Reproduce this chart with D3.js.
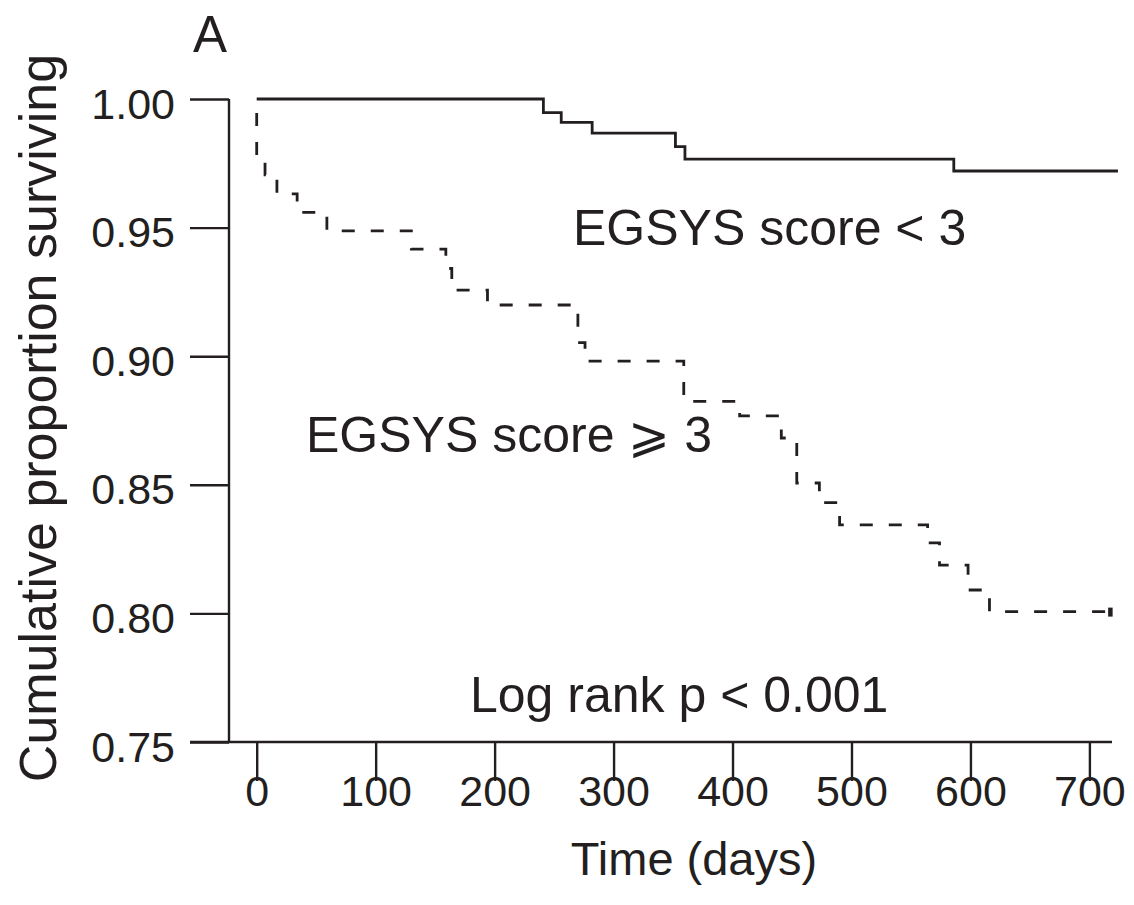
<!DOCTYPE html>
<html>
<head>
<meta charset="utf-8">
<script src="https://cdn.jsdelivr.net/npm/d3@7"></script>
<style>
  body { margin: 0; background: #fff; }
  svg { display: block; }
  text { font-family: "Liberation Sans", Arial, Helvetica, sans-serif; fill: #231f20; }
</style>
</head>
<body>
<svg width="1134" height="905"></svg>
<script>
// Kaplan-Meier curves
const xTicks = [0, 100, 200, 300, 400, 500, 600, 700]
const yTicks = [0.75, 0.80, 0.85, 0.90, 0.95, 1.00]

// EGSYS score < 3 (solid)
const lowDays = [0, 241, 256, 282, 352, 360, 586, 724]
const lowSurv = [1.0, 0.9947, 0.9909, 0.9867, 0.9815, 0.9766, 0.9720, 0.9720]

// EGSYS score >= 3 (dashed)
const highDays = [0, 0, 7, 17, 34, 59, 130, 159, 164, 194, 270, 276, 359, 406, 441, 454, 473, 490, 564, 574, 598, 616, 721]
const highSurv = [1.0, 0.9763, 0.9705, 0.9631, 0.9559, 0.9487, 0.9416, 0.9341, 0.9257, 0.9199, 0.9053, 0.8981,
                  0.8824, 0.8768, 0.8682, 0.8507, 0.8431, 0.8344, 0.8274, 0.8188, 0.8091, 0.8007, 0.8007]

const labels = {
    panel: "A",
    low: "EGSYS score  < 3",
    high: "EGSYS score \u2A7E 3",
    test: "Log rank p < 0.001",
    xTitle: "Time (days)",
    yTitle: "Cumulative proportion surviving"
}

const svg = d3.select("svg")
const ink = "#231f20"

const yAxisX = 229
const tickLen = 39
const xEndDay = 719

const x = d3.scaleLinear().domain([0, 700]).range([256.7, 1089.4])
const y = d3.scaleLinear().domain([0.75, 1.00]).range([742, 99])

// y axis
const gy = svg.append("g")
    .attr("transform", `translate(${yAxisX},0)`)
    .call(d3.axisLeft(y).tickValues(yTicks).tickSize(tickLen).tickSizeOuter(0).tickFormat(d3.format(".2f")))
gy.select(".domain").remove()
gy.selectAll(".tick line").attr("stroke", ink).attr("stroke-width", 2.4)
gy.selectAll(".tick text")
    .attr("x", -54)
    .attr("dy", 19)
    .attr("font-size", 43)
    .attr("fill", ink)
    .attr("font-family", "Liberation Sans, Arial, sans-serif")

svg.append("line")
    .attr("x1", yAxisX).attr("x2", yAxisX)
    .attr("y1", y(1.0)).attr("y2", y(0.75))
    .attr("stroke", ink).attr("stroke-width", 2.4)

// x axis
const gx = svg.append("g")
    .attr("transform", `translate(0,${y(0.75)})`)
    .call(d3.axisBottom(x).tickValues(xTicks).tickSize(tickLen).tickSizeOuter(0))
gx.select(".domain").remove()
gx.selectAll(".tick line").attr("stroke", ink).attr("stroke-width", 2.4)
gx.selectAll(".tick text")
    .attr("y", 47)
    .attr("dy", 17)
    .attr("font-size", 43)
    .attr("fill", ink)
    .attr("font-family", "Liberation Sans, Arial, sans-serif")

svg.append("line")
    .attr("x1", yAxisX - tickLen).attr("x2", x(xEndDay))
    .attr("y1", y(0.75)).attr("y2", y(0.75))
    .attr("stroke", ink).attr("stroke-width", 2.4)

// curves
const line = d3.line()
    .x(d => x(d[0]))
    .y(d => y(d[1]))
    .curve(d3.curveStepAfter)

svg.append("path")
    .datum(d3.zip(lowDays, lowSurv))
    .attr("d", line)
    .attr("fill", "none")
    .attr("stroke", ink)
    .attr("stroke-width", 2.8)

svg.append("path")
    .datum(d3.zip(highDays, highSurv))
    .attr("d", line)
    .attr("fill", "none")
    .attr("stroke", ink)
    .attr("stroke-width", 2.8)
    .attr("stroke-dasharray", "13,16")
    .attr("stroke-dashoffset", 15)

// censor mark at the end of the dashed curve
const lastDay = highDays[highDays.length - 1]
const lastSurv = highSurv[highSurv.length - 1]
svg.append("line")
    .attr("x1", x(lastDay) - 4).attr("x2", x(lastDay) - 4)
    .attr("y1", y(lastSurv) - 4).attr("y2", y(lastSurv) + 5)
    .attr("stroke", ink).attr("stroke-width", 4.5)

// text
svg.append("text").attr("x", 193).attr("y", 52).attr("font-size", 51).text(labels.panel)
svg.append("text").attr("x", 573).attr("y", 245).attr("font-size", 50).text(labels.low)
svg.append("text").attr("x", 306).attr("y", 452).attr("font-size", 50).text(labels.high)
svg.append("text").attr("x", 470).attr("y", 712).attr("font-size", 50).text(labels.test)

svg.append("text")
    .attr("x", 694).attr("y", 875)
    .attr("text-anchor", "middle")
    .attr("font-size", 47)
    .text(labels.xTitle)

svg.append("text")
    .attr("transform", "translate(56,418) rotate(-90)")
    .attr("text-anchor", "middle")
    .attr("font-size", 52)
    .text(labels.yTitle)
</script>
</body>
</html>
